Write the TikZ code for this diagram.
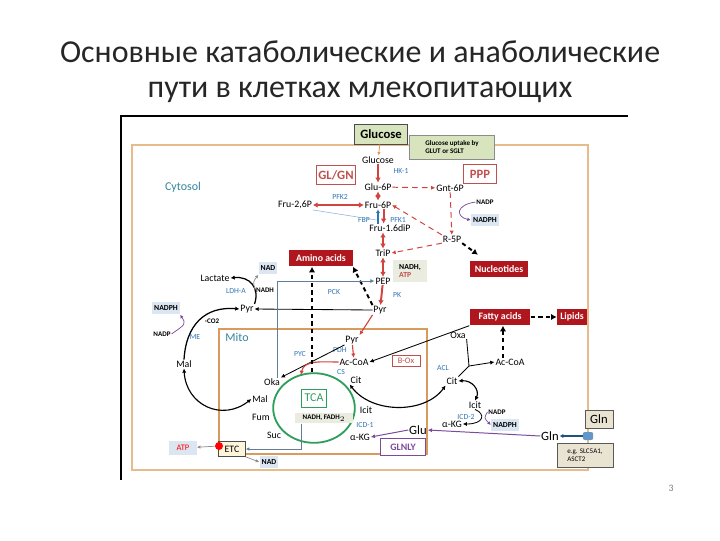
\documentclass[tikz,border=0pt]{standalone}
\usepackage{fontspec}
\setmainfont{Carlito}
\usepackage{tikz}
\usetikzlibrary{positioning, arrows.meta, fit, backgrounds, calc}

\definecolor{boxred}{HTML}{C0504D}
\definecolor{darkred}{HTML}{B0161E}
\definecolor{enzblue}{HTML}{2E75B6}
\definecolor{celltext}{HTML}{31859C}
\definecolor{tanline}{HTML}{E6BC8E}
\definecolor{mitoline}{HTML}{D99A5E}
\definecolor{coffill}{HTML}{DCE6F2}
\definecolor{arrred}{HTML}{D0433F}
\definecolor{tcagreen}{HTML}{2E9E5B}
\definecolor{glnpurple}{HTML}{7A4A9C}
\definecolor{glcfill}{HTML}{D7E4BD}
\definecolor{glnfill}{HTML}{E9E3D2}
\definecolor{etcfill}{HTML}{FCF5DA}
\definecolor{nadhfill}{HTML}{EAECDF}
\definecolor{uparr}{HTML}{E59A5C}

\begin{document}
\begin{tikzpicture}[
        x=0.025cm, y=-0.025cm,
        title/.style={font=\fontsize{22.7}{26}\selectfont, text=black!85},
        met/.style={font=\fontsize{7}{8}\selectfont, inner sep=0.5pt},
        enz/.style={font=\fontsize{5.5}{6}\selectfont, text=enzblue, inner sep=0.5pt},
        cofl/.style={font=\bfseries\fontsize{5}{6}\selectfont, inner sep=0.5pt},
        cof/.style={fill=coffill, font=\bfseries\fontsize{5.5}{6}\selectfont,
            inner sep=1.5pt, minimum height=0.32cm},
        loc/.style={font=\fontsize{8.5}{9}\selectfont, text=celltext},
        pwbox/.style={draw=boxred, fill=white, text=boxred,
            font=\bfseries\fontsize{9}{10}\selectfont,
            minimum width=#1, minimum height=0.48cm, inner sep=1pt},
        pwbox/.default=0.9cm,
        prod/.style={fill=darkred, text=white, font=\bfseries\fontsize{7}{8}\selectfont,
            minimum width=#1, minimum height=0.42cm, inner sep=1pt},
        prod/.default=1.5cm,
        nbox/.style={fill=nadhfill, font=\bfseries\fontsize{5.5}{6}\selectfont, inner sep=1pt},
        graybox/.style={fill=glnfill, draw=black!65, inner sep=1pt},
        rarr/.style={draw=arrred, line width=1.4pt, -{Latex[length=3.5pt,width=4pt]}},
        rdarr/.style={draw=arrred, line width=1.4pt,
            {Latex[length=3.5pt,width=4pt]}-{Latex[length=3.5pt,width=4pt]}},
        rthin/.style={draw=arrred, line width=0.8pt, -{Latex[length=3pt,width=3pt]}},
        rdash/.style={draw=arrred, line width=0.7pt, dash pattern=on 4pt off 3pt,
            -{Latex[length=3pt,width=3pt]}},
        karr/.style={-{Latex[length=3pt,width=3pt]}, line width=0.6pt},
        kdarr/.style={{Latex[length=3pt,width=3pt]}-{Latex[length=3pt,width=3pt]}, line width=0.8pt},
        kdash/.style={line width=1.4pt, dash pattern=on 3pt off 2.5pt,
            -{Latex[length=4pt,width=4.5pt]}},
        carr/.style={-{Latex[length=2.5pt,width=2.5pt]}, draw=#1, line width=0.5pt},
        carr/.default=black!45,
        parr/.style={-{Latex[length=3pt,width=3pt]}, draw=glnpurple, line width=0.7pt},
    ]
    \useasboundingbox (0,0) rectangle (720,540);

    % =============================================
    % TITLE
    % =============================================
    \node[title] (t1) at (360,52) {Основные катаболические и анаболические};
    \node[title] (t2) at (360,92) {пути  в клетках  млекопитающих};
    \node[font=\fontsize{7}{8}\selectfont, text=gray] (pg) at (671,488) {3};

    % frame, cytosol, mito
    \draw[line width=0.8pt] (121,480) -- (121,116) -- (628,116);
    \draw[tanline, line width=0.8pt] (132,145) rectangle (588,470);
    \draw[mitoline, line width=1.5pt] (219,329) rectangle (427,454);
    \node[loc] (cyto) at (183,187) {Cytosol};
    \node[loc] (mito) at (237,337) {Mito};

    % =============================================
    % GLYCOLYSIS / GLUCONEOGENESIS
    % =============================================
    \node[fill=glcfill, draw=black!70, font=\bfseries\fontsize{9}{10}\selectfont,
        minimum width=1.33cm, minimum height=0.5cm] (glcbox) at (381,134) {Glucose};
    \node[fill=glcfill, draw=black!45, font=\bfseries\fontsize{5}{6}\selectfont,
        align=left, minimum width=2.12cm, minimum height=0.6cm] (uptake) at (452,147)
        {Glucose uptake by\\GLUT or SGLT};
    \node[pwbox=0.98cm] (glgn) at (336,175) {GL/GN};
    \node[pwbox=0.83cm] (ppp) at (480,174) {PPP};

    \node[met] (glc)  at (378,160) {Glucose};
    \node[enz] (hk)   at (401,171) {HK-1};
    \node[met] (g6p)  at (378,187) {Glu-6P};
    \node[met] (f26)  at (295,205) {Fru-2,6P};
    \node[enz] (pfk2) at (340,197) {PFK2};
    \node[met] (f6p)  at (378,205) {Fru-6P};
    \node[enz] (fbp)  at (364,220) {FBP};
    \node[enz] (pfk1) at (398,220) {PFK1};
    \node[met] (f16)  at (390,228) {Fru-1.6diP};
    \node[met] (trip) at (383,253) {TriP};
    \node[met] (pep)  at (383,281) {PEP};
    \node[enz] (pk)   at (397,295) {PK};
    \node[met] (pyrc) at (380,310) {Pyr};
    \node[nbox, align=left, minimum width=0.85cm, minimum height=0.55cm] (nadhatp)
        at (410,271) {NADH,\\\textcolor{boxred}{ATP}};

    \draw[-{Latex[length=2.5pt,width=2.5pt]}, draw=uparr, line width=0.6pt] (glcbox) -- (glc);
    \draw[rarr]  (glc) -- (g6p);
    \draw[rdarr] (g6p) -- (f6p);
    \draw[rarr]  ([xshift=4pt]f6p.south) -- ([xshift=4pt]f6p.south |- f16.north);
    \draw[-{Latex[length=2.5pt,width=3pt]}, draw=enzblue, line width=1pt]
        ([xshift=0pt]f6p.south |- f16.north) -- ([xshift=0pt]f6p.south);
    \draw[rdarr] (f16.south -| trip) -- (trip);
    \draw[rdarr] (trip) -- (pep);
    \draw[rarr]  (pep) -- (pyrc);
    \draw[rdarr, line width=0.8pt] (f26) -- (f6p);
    \draw[enzblue!55, line width=0.4pt] (f26.south east) -- ([xshift=-1pt]f6p.south |- fbp);

    % =============================================
    % PPP
    % =============================================
    \node[met] (gnt)    at (450,188) {Gnt-6P};
    \node[cofl] (nadp1) at (485,202) {NADP};
    \node[cof] (nadph1) at (485,220) {NADPH};
    \node[met] (r5p)    at (452,239) {R-5P};
    \node[prod=1.45cm] (nucl) at (499,269) {Nucleotides};

    \draw[rdash] (g6p) -- (gnt);
    \draw[rdash] (gnt) -- (r5p);
    \draw[rdash] (r5p.north west) -- (f6p.east);
    \draw[rdash] (r5p.south west) -- (trip.east);
    \draw[carr=glnpurple] (nadp1.west) .. controls (455,205) and (456,217) .. (nadph1.west);
    \draw[kdash] (r5p.south east) -- ([xshift=-15pt, yshift=4pt]nucl.north);

    % =============================================
    % CYTOSOL: Pyr, Lactate, ME
    % =============================================
    \node[prod=1.58cm] (amino) at (321,258) {Amino acids};
    \node[enz] (pck)    at (334,292) {PCK};
    \node[met] (pyrl)   at (247,309) {Pyr};
    \node[met] (lac)    at (215,278) {Lactate};
    \node[enz] (ldh)    at (236,291) {LDH-A};
    \node[cofl] (nadh1) at (265,290) {NADH};
    \node[cof] (nad1)   at (268,268) {NAD};
    \node[cof] (nadph2) at (166,308) {NADPH};
    \node[cofl] (nadp2) at (162,334) {NADP};
    \node[cofl] (co2)   at (212,321) {-CO2};
    \node[enz] (me)     at (195,337) {ME};
    \node[met] (malc)   at (184,364) {Mal};

    \draw[karr] (pyrc.west) -- (pyrl.east);
    \draw[kdash] (pyrc.north west) -- (amino.south east);
    \draw[karr, line width=0.9pt] (pyrl.north east) .. controls (260,288) and (250,276) .. (lac.east);
    \draw[carr] (nadh1.west) .. controls (253,282) .. (nad1.south west);
    \draw[karr, line width=0.9pt] (malc.north) .. controls (186,325) and (205,306) .. (pyrl.west);
    \draw[carr=glnpurple] (nadp2.east) .. controls (186,324) .. (nadph2.south east);

    % =============================================
    % MITO: TCA
    % =============================================
    \coordinate (tcac) at (314,408);
    \draw[tcagreen, line width=1.3pt] (tcac) ellipse [x radius=1.02cm, y radius=0.87cm];
    \node[draw=tcagreen, text=tcagreen, fill=white, font=\fontsize{8.5}{9}\selectfont,
        minimum width=0.63cm, minimum height=0.45cm, inner sep=1pt] (tca) at (314,398) {TCA};
    \node[nbox, minimum width=1.45cm, minimum height=0.27cm, font=\bfseries\fontsize{5}{6}\selectfont]
        (nadhf) at (324,418) {NADH, FADH$_2$};

    \node[met] (pyrm)  at (352,340) {Pyr};
    \node[enz] (pdh)   at (340,350) {PDH};
    \node[met] (acm)   at (354,362) {Ac-CoA};
    \node[enz] (pyc)   at (300,354) {PYC};
    \node[met] (oka)   at (272,382) {Oka};
    \node[met] (malm)  at (260,399) {Mal};
    \node[met] (fum)   at (261,417) {Fum};
    \node[met] (suc)   at (274,435) {Suc};
    \node[enz] (cs)    at (341,372) {CS};
    \node[met] (citm)  at (356,380) {Cit};
    \node[met] (icitm) at (366,410) {Icit};
    \node[enz] (icd1)  at (365,425) {ICD-1};
    \node[met] (akgm)  at (360,437) {α-KG};
    \node[pwbox=0.7cm, minimum height=0.28cm, font=\fontsize{6}{7}\selectfont] (box) at (406,361) {B-Ox};
    \coordinate (tcatop) at (301,375);
    \coordinate (aaup) at (312,372);

    \draw[rthin] (pyrc.south west) -- (pyrm.north east);
    \draw[rthin] (pyrm) -- (acm);
    \draw[karr] (pyrm.south west) -- (oka.north east);
    \draw[rthin] (acm.west) to[out=180, in=80] (tcatop);
    \draw[kdash] (aaup) -- (aaup |- amino.south);
    \draw[-{Latex[length=3pt,width=3pt]}, draw=enzblue!60!black!70, line width=0.6pt]
        ([xshift=3.5pt]oka.north) |- (pep.west);
    \draw[kdarr] (malm.west) .. controls (222,422) and (186,405) .. (malc.south);

    % =============================================
    % CYTOSOL: lipids, Gln
    % =============================================
    \node[prod=1.52cm] (fatty)  at (500,317) {Fatty acids};
    \node[prod=0.75cm] (lipids) at (572,317) {Lipids};
    \node[met] (oxac)  at (458,335) {Oxa};
    \node[met] (acc)   at (510,362) {Ac-CoA};
    \node[met] (citc)  at (452,381) {Cit};
    \node[enz] (acl)   at (443,368) {ACL};
    \node[met] (icitc) at (475,405) {Icit};
    \node[enz] (icd2)  at (466,417) {ICD-2};
    \node[met] (akgc)  at (452,424) {α-KG};
    \node[cofl] (nadp3) at (497,412) {NADP};
    \node[cof] (nadph3) at (505,425) {NADPH};
    \coordinate (aclj) at (469,366);

    \draw[kdarr] (citm.south west) .. controls (372,414) and (425,414) .. (citc.south west);
    \draw[kdash] (fatty) -- (lipids);
    \draw[karr] (fatty.south west) -- (acm.east);
    \draw[kdash] ([xshift=-5pt]acc.north) -- ([xshift=-5pt]acc.north |- fatty.south);
    \draw[line width=0.6pt] (citc.north east) -- (aclj);
    \draw[line width=0.6pt] (oxac.south east) -- (aclj);
    \draw[karr] (aclj) -- (acc.west);
    \draw[kdarr] (citc.east) .. controls (472,380) and (480,390) .. (icitc.north);
    \draw[karr] (icitc.south) .. controls (486,414) and (484,424) .. (akgc.east);
    \draw[carr=glnpurple] (nadp3.west) .. controls (484,418) .. (nadph3.west);

    \node[graybox, font=\fontsize{9}{10}\selectfont, minimum width=0.7cm,
        minimum height=0.45cm] (glnbox) at (599,419) {Gln};
    \node[graybox, font=\fontsize{5}{6}\selectfont, align=left, minimum width=1.4cm,
        minimum height=0.6cm] (slc) at (585,455) {e.g. SLC5A1,\\ASCT2};
    \node[rounded corners=1.5pt, fill=enzblue!75, inner sep=0pt, minimum width=0.26cm,
        minimum height=0.2cm] (trans) at (588,436) {};
    \node[met, font=\fontsize{9}{10}\selectfont] (glnc) at (550,436) {Gln};
    \node[met, font=\fontsize{9}{10}\selectfont] (glum) at (418,430) {Glu};
    \node[draw=glnpurple, text=glnpurple, fill=white, font=\bfseries\fontsize{7}{8}\selectfont,
        minimum width=1.12cm, minimum height=0.42cm, inner sep=1pt] (glnly) at (403,447) {GLNLY};

    \draw[-{Latex[length=2.5pt,width=3pt]}, draw=enzblue!70!black, line width=0.8pt] (trans) -- (glnc);
    \draw[parr] (glnc.west) -- (glum.east);
    \draw[parr] (glum.west) -- (akgm.east);

    % =============================================
    % ETC
    % =============================================
    \node[fill=etcfill, draw=black!70, font=\fontsize{7}{8}\selectfont,
        minimum width=0.68cm, minimum height=0.38cm, inner sep=1pt] (etc) at (232,449) {ETC};
    \node[circle, fill=red, inner sep=0pt, minimum size=0.2cm] (rdot) at (219,446) {};
    \node[cof, text=red, font=\fontsize{6}{7}\selectfont, minimum width=0.68cm,
        minimum height=0.36cm] (atp) at (183,448) {ATP};
    \node[cof] (nad2) at (269,462) {NAD};

    \draw[carr] (rdot) -- (atp);
    \draw[carr] (etc.south east) -- (nad2.west);
    \draw[carr=enzblue!60!black!70] ([xshift=5pt]nadhf.south west) |- (etc.east);

\end{tikzpicture}
\end{document}
